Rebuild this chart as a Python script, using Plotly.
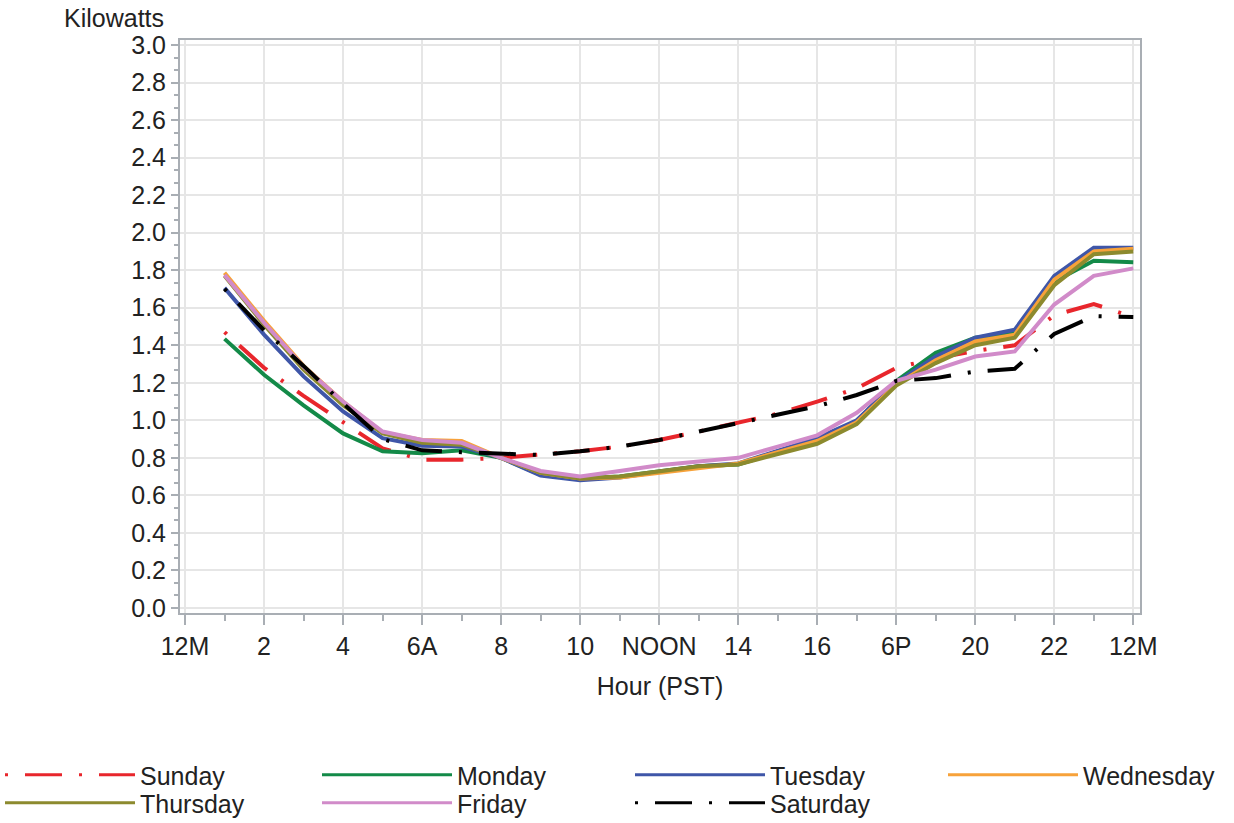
import plotly.graph_objects as go

hours = list(range(1, 25))

days = ["Sunday", "Monday", "Tuesday", "Wednesday", "Thursday", "Friday", "Saturday"]

sunday = [1.47, 1.28, 1.13, 0.99, 0.85, 0.79, 0.79, 0.80, 0.815, 0.835, 0.86, 0.895,
          0.94, 0.99, 1.035, 1.10, 1.17, 1.28, 1.33, 1.37, 1.40, 1.56, 1.62, 1.55]
monday = [1.434, 1.243, 1.08, 0.93, 0.835, 0.825, 0.84, 0.80, 0.71, 0.69, 0.70, 0.73,
          0.755, 0.765, 0.83, 0.89, 0.995, 1.21, 1.36, 1.44, 1.465, 1.74, 1.85, 1.843]
tuesday = [1.706, 1.457, 1.234, 1.047, 0.905, 0.865, 0.86, 0.80, 0.705, 0.68, 0.695, 0.725,
           0.755, 0.77, 0.835, 0.905, 1.0, 1.20, 1.34, 1.44, 1.483, 1.77, 1.92, 1.92]
wednesday = [1.786, 1.53, 1.29, 1.10, 0.935, 0.895, 0.89, 0.80, 0.72, 0.69, 0.695, 0.72,
             0.75, 0.77, 0.83, 0.89, 0.99, 1.19, 1.32, 1.42, 1.456, 1.75, 1.90, 1.915]
thursday = [1.77, 1.51, 1.27, 1.08, 0.93, 0.88, 0.87, 0.80, 0.72, 0.69, 0.70, 0.73,
            0.755, 0.765, 0.82, 0.875, 0.98, 1.185, 1.305, 1.40, 1.44, 1.72, 1.885, 1.90]
friday = [1.775, 1.52, 1.285, 1.10, 0.94, 0.895, 0.88, 0.80, 0.73, 0.70, 0.73, 0.76,
          0.78, 0.80, 0.86, 0.92, 1.04, 1.21, 1.27, 1.34, 1.367, 1.617, 1.77, 1.81]
saturday = [1.70, 1.48, 1.29, 1.09, 0.90, 0.84, 0.83, 0.82, 0.815, 0.835, 0.86, 0.895,
            0.94, 0.985, 1.03, 1.075, 1.135, 1.21, 1.225, 1.26, 1.275, 1.46, 1.555, 1.55]

series = [sunday, monday, tuesday, wednesday, thursday, friday, saturday]

x_tickvals = [0, 2, 4, 6, 8, 10, 12, 14, 16, 18, 20, 22, 24]
x_ticktext = ["12M", "2", "4", "6A", "8", "10", "NOON", "14", "16", "6P", "20", "22", "12M"]
y_tickvals = [round(0.2 * i, 1) for i in range(16)]
y_ticktext = [f"{v:.1f}" for v in y_tickvals]

colors = ["#E8262C", "#138A48", "#3F56A8", "#F7A23A", "#8C8A2E", "#D18BC9", "#000000"]
dashes = ["3px,17px,37px,17px", "solid", "solid", "solid", "solid", "solid", "3px,17px,37px,17px"]

FONT = "Liberation Sans, Arial, sans-serif"
FS = 25
TXT = "#222222"
W, H = 1234, 823
ML, MR, MT, MB = 180, 94, 40, 210
PW = W - ML - MR
PH = H - MT - MB

# legend layout: (column, row)
leg_pos = [(0, 0), (1, 0), (2, 0), (3, 0), (0, 1), (1, 1), (2, 1)]
col_left = [0, 317, 630, 943]
row_y = [775, 803]

fig = go.Figure()
layout_legends = {}
for i, (name, ys) in enumerate(zip(days, series)):
    fig.add_trace(go.Scatter(
        x=hours, y=ys, mode="lines", name=name,
        line=dict(color=colors[i], width=4, dash=dashes[i]),
        showlegend=False, hoverinfo="x+y+name",
    ))

for i, name in enumerate(days):
    lname = "legend" if i == 0 else f"legend{i+1}"
    # legend sample only (thinner line as in the reference legend)
    fig.add_trace(go.Scatter(
        x=[None], y=[None], mode="lines", name=name,
        line=dict(color=colors[i], width=3, dash=dashes[i]),
        legend=lname, showlegend=True, hoverinfo="skip",
    ))
    c, r = leg_pos[i]
    layout_legends[lname] = dict(
        xref="container", yref="container", orientation="h",
        x=col_left[c] / W, y=1 - row_y[r] / H,
        xanchor="left", yanchor="middle",
        bgcolor="rgba(0,0,0,0)", borderwidth=0,
        font=dict(family=FONT, size=FS, color=TXT),
        itemwidth=130, tracegroupgap=0,
    )

fig.update_layout(
    width=W, height=H,
    margin=dict(l=ML, r=MR, t=MT, b=MB, autoexpand=False),
    plot_bgcolor="white", paper_bgcolor="white",
    font=dict(family=FONT, size=FS, color=TXT),
    showlegend=True,
    **layout_legends,
)

fig.update_xaxes(
    range=[-0.127, 24.17],
    tickvals=x_tickvals, ticktext=x_ticktext,
    showgrid=True, gridcolor="#E6E6E6", gridwidth=2,
    showline=True, linecolor="#A9AEB4", linewidth=2, mirror=True,
    ticks="outside", ticklen=10, tickwidth=2, tickcolor="#A9AEB4",
    minor=dict(dtick=1, tick0=0, ticks="outside", ticklen=6, tickwidth=2,
               tickcolor="#A9AEB4", showgrid=False),
    tickfont=dict(family=FONT, size=FS, color=TXT),
    title=dict(text="Hour (PST)", font=dict(family=FONT, size=FS, color=TXT), standoff=18),
    zeroline=False,
)
fig.update_yaxes(
    range=[-0.027, 3.027],
    tickvals=y_tickvals, ticktext=y_ticktext,
    showgrid=True, gridcolor="#E6E6E6", gridwidth=2,
    showline=True, linecolor="#A9AEB4", linewidth=2, mirror=True,
    ticks="outside", ticklen=7, tickwidth=2, tickcolor="#A9AEB4",
    minor=dict(dtick=0.2 / 3, tick0=0, ticks="outside", ticklen=4, tickwidth=2,
               tickcolor="#A9AEB4", showgrid=False),
    tickfont=dict(family=FONT, size=FS, color=TXT),
    zeroline=False,
)

fig.add_annotation(
    text="Kilowatts", xref="paper", yref="paper",
    x=(166 - ML) / PW, y=(H - MB - 18) / PH,
    xanchor="right", yanchor="middle", showarrow=False,
    font=dict(family=FONT, size=FS, color=TXT),
)

fig.write_html("out.html", config={"displayModeBar": False},
               post_script="document.body.style.margin='0px';")
